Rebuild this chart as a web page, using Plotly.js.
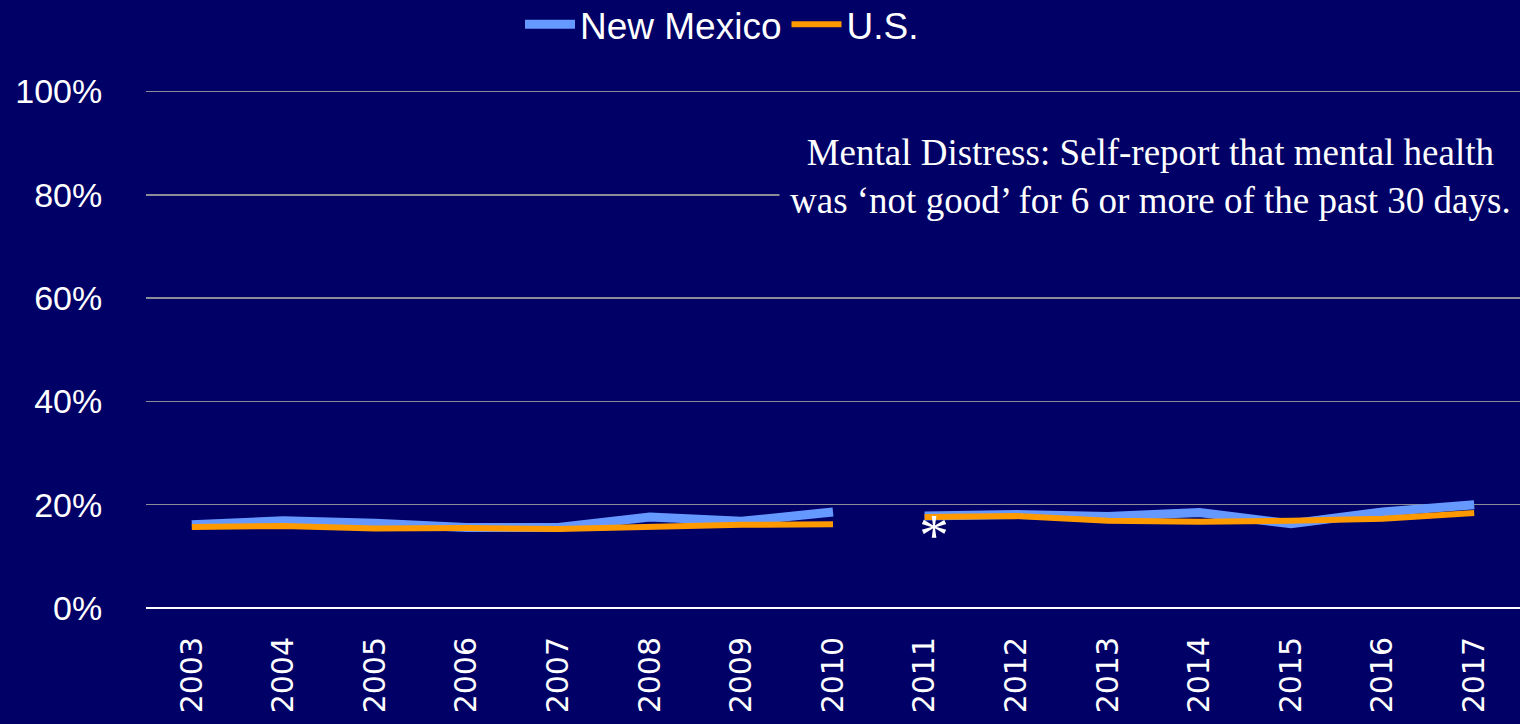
<!DOCTYPE html>
<html>
<head>
<meta charset="utf-8">
<script src="https://cdn.plot.ly/plotly-3.0.1.min.js"></script>
<style>html,body{margin:0;padding:0;background:#000066;}#chart{width:1520px;height:724px;}</style>
</head>
<body>
<div id="chart"></div>
<script>
const years = ['2003','2004','2005','2006','2007','2008','2009','2010','2011','2012','2013','2014','2015','2016','2017'];
const newMexico = [16.1, 16.9, 16.4, 15.6, 15.6, 17.6, 16.8, 18.6, 17.8, 18.1, 17.7, 18.5, 16.3, 18.6, 20.0];
const usValues = [15.7, 15.9, 15.4, 15.5, 15.3, 15.7, 16.1, 16.2, 17.6, 17.8, 16.9, 16.7, 16.9, 17.3, 18.4];
const breakIndex = 8; // survey methodology change (2011, marked *)
const seriesNames = ['New Mexico', 'U.S.'];
const yTicks = [0, 20, 40, 60, 80, 100];
const yTickLabels = ['0%', '20%', '40%', '60%', '80%', '100%'];
const noteText = 'Mental Distress: Self-report that mental health<br>was \u2018not good\u2019 for 6 or more of the past 30 days.';

function segment(vals, first) {
  return vals.map((v, i) => (first ? (i < breakIndex ? v : null) : (i >= breakIndex ? v : null)));
}

const nmColor = '#6699FF', usColor = '#FF9900';
const traces = [
  {x: years, y: segment(newMexico, true), name: seriesNames[0], mode: 'lines', line: {color: nmColor, width: 9}, legendgroup: 'nm'},
  {x: years, y: segment(newMexico, false), name: seriesNames[0], mode: 'lines', line: {color: nmColor, width: 9}, legendgroup: 'nm', showlegend: false},
  {x: years, y: segment(usValues, true), name: seriesNames[1], mode: 'lines', line: {color: usColor, width: 6}, legendgroup: 'us'},
  {x: years, y: segment(usValues, false), name: seriesNames[1], mode: 'lines', line: {color: usColor, width: 6}, legendgroup: 'us', showlegend: false}
];

const layout = {
  width: 1520, height: 724,
  paper_bgcolor: '#000066', plot_bgcolor: '#000066',
  margin: {l: 146, r: 0, t: 90, b: 116, autoexpand: false},
  font: {family: 'Liberation Sans, Arial, sans-serif', color: '#FFFFFF', size: 34},
  showlegend: true,
  legend: {orientation: 'h', xref: 'container', yref: 'container', x: 0.475, xanchor: 'center', y: 0.966, yanchor: 'middle',
           font: {size: 37, color: '#FFFFFF'}, bgcolor: 'rgba(0,0,0,0)', itemwidth: 50, tracegroupgap: 0},
  xaxis: {
    type: 'category', categoryorder: 'array', categoryarray: years, range: [-0.5, years.length - 0.5],
    tickangle: -90, tickfont: {size: 30, family: 'DejaVu Sans, sans-serif', color: '#FFFFFF'},
    showgrid: false, showline: false, zeroline: false, ticks: 'outside', ticklen: 16, tickcolor: 'rgba(0,0,0,0)'
  },
  yaxis: {
    range: [0, 100.3], tickmode: 'array', tickvals: yTicks, ticktext: yTickLabels,
    tickfont: {size: 34, color: '#FFFFFF'},
    showgrid: true, gridcolor: '#8C8C99', gridwidth: 1.5,
    zeroline: true, zerolinecolor: '#FFFFFF', zerolinewidth: 2,
    showline: false, ticks: 'outside', ticklen: 36, tickcolor: 'rgba(0,0,0,0)'
  },
  annotations: [
    {xref: 'paper', yref: 'y', x: 0.731, y: 83.6, xanchor: 'center', yanchor: 'middle',
     text: noteText, showarrow: false, align: 'center', bgcolor: '#000066', borderpad: 10,
     font: {family: 'Liberation Serif, Times New Roman, serif', size: 37, color: '#FFFFFF'}},
    {xref: 'x', yref: 'y', x: breakIndex, y: usValues[breakIndex], text: '*', showarrow: false,
     xanchor: 'center', yanchor: 'middle', yshift: -18, xshift: 9,
     font: {family: 'Liberation Serif, Times New Roman, serif', size: 60, color: '#FFFFFF'}}
  ]
};

Plotly.newPlot('chart', traces, layout, {displayModeBar: false, staticPlot: true});
</script>
</body>
</html>
